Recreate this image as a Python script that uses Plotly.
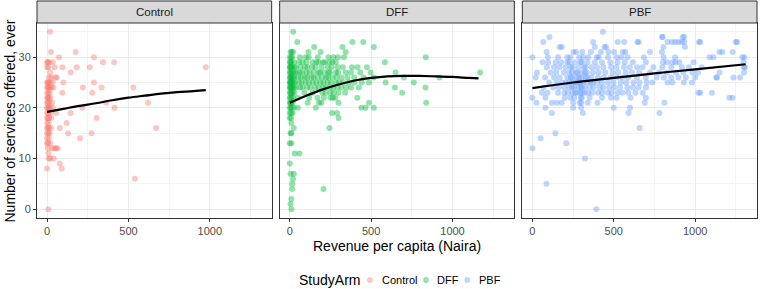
import plotly.graph_objects as go

# ---------------- data ----------------
panels = ["Control", "DFF", "PBF"]
colors = {"Control": "#F8766D", "DFF": "#00BA38", "PBF": "#619CFF"}

# points: services offered (y) -> list of revenue per capita values (x)
control_pts = {
    35: [18], 31: [24, 176], 30: [73, 288], 29: [0, 5, 12, 35, 343, 412],
    28: [0, 8, 47, 94, 182, 263, 975], 27: [20, 145], 26: [12, 25, 50, 60],
    25: [0, 5, 10, 20, 35, 100, 288], 24: [0, 5, 10, 18, 25, 40, 220, 335, 530],
    23: [0, 8, 15, 94, 278], 22: [0, 5, 10, 20], 21: [0, 5, 15, 30, 363, 620],
    20: [0, 5, 10, 18, 35, 216, 414], 19: [0, 8, 20, 55, 145], 18: [0, 5, 12, 25, 304],
    17: [0, 10, 120], 16: [0, 5, 12, 25, 78, 670], 15: [0, 8, 15, 129, 273],
    14: [0, 10, 202], 13: [0, 5, 20], 12: [5, 30, 45, 55, 65], 11: [8],
    10: [10, 20, 40], 9: [78], 8: [0, 90], 6: [540], 0: [8],
}
dff_pts = {
    35: [21], 33: [46, 385, 452], 32: [150, 324, 517],
    31: [5, 12, 20, 115, 190, 344],
    30: [0, 8, 15, 62, 98, 117, 172, 238, 268, 296, 333, 836],
    29: [0, 4, 11, 26, 57, 78, 103, 141, 163, 178, 205, 216, 244, 262, 283, 585],
    28: [0, 2, 7, 14, 27, 38, 66, 93, 108, 137, 158, 196, 233, 257, 294, 327, 383, 417, 474],
    27: [0, 4, 9, 19, 31, 43, 62, 77, 103, 122, 148, 177, 186, 213, 238, 247, 283, 297,
         344, 376, 433, 497, 650, 1170],
    26: [0, 3, 7, 13, 21, 29, 52, 68, 92, 107, 133, 147, 172, 198, 223, 236, 263, 288,
         318, 354, 396, 454, 516, 701, 920],
    25: [0, 2, 5, 9, 16, 23, 33, 57, 73, 97, 118, 142, 163, 188, 207, 232, 252, 283,
         302, 328, 364, 397, 443, 487, 589, 762],
    24: [0, 3, 6, 12, 17, 26, 38, 63, 78, 107, 127, 157, 178, 203, 222, 247, 268, 293,
         317, 348, 377, 424, 646, 834],
    23: [0, 5, 10, 18, 28, 90, 140, 200, 220, 250, 270, 300, 340, 691],
    22: [0, 5, 12, 20, 50, 120, 170, 210, 250, 265, 280, 415],
    21: [0, 5, 10, 18, 110, 180, 195, 300, 487, 838],
    20: [0, 5, 12, 25, 50, 160, 440, 466, 517], 19: [0, 8, 18, 260, 290],
    18: [0, 8, 300], 17: [10], 16: [25, 244], 15: [5, 10], 13: [0, 10], 11: [30, 60],
    9: [0], 7: [5, 25], 6: [20], 5: [15], 4: [15, 207], 2: [10], 1: [5], 0: [10],
}
pbf_pts = {
    35: [433], 34: [105, 796, 801, 923, 933],
    33: [67, 373, 524, 564, 645, 653, 830, 857, 877, 897, 917, 933, 1024, 1031, 1250, 1258],
    32: [167, 181, 383, 443, 453, 806, 937],
    31: [87, 252, 268, 306, 359, 421, 467, 502, 556, 571, 722, 796, 1149, 1167, 1230],
    30: [0, 95, 158, 214, 233, 287, 312, 343, 396, 408, 464, 518, 547, 585, 685, 806, 877,
         1089, 1112, 1290, 1302],
    29: [62, 97, 143, 176, 214, 228, 262, 296, 303, 338, 383, 427, 478, 523, 567, 617,
         697, 803, 828, 862, 879, 903, 990, 1298],
    28: [88, 133, 166, 204, 236, 247, 283, 317, 326, 363, 397, 436, 483, 516, 562, 598,
         643, 677, 743, 798, 853, 918, 962, 1040, 1300, 1305],
    27: [28, 112, 147, 193, 226, 243, 268, 277, 304, 323, 334, 372, 407, 448, 493, 527,
         573, 612, 657, 722, 778, 827, 883, 927, 983, 1018, 1150, 1300],
    26: [20, 78, 133, 167, 214, 236, 246, 273, 287, 302, 327, 338, 363, 402, 437, 483,
         518, 553, 588, 642, 697, 763, 807, 853, 897, 943, 1000, 1130, 1134, 1235, 1276],
    25: [102, 148, 183, 206, 227, 243, 263, 273, 288, 297, 313, 336, 357, 373, 398, 427,
         463, 498, 543, 577, 622, 658, 703, 738, 830, 860, 930, 980],
    24: [68, 128, 163, 197, 226, 243, 256, 283, 296, 304, 323, 352, 377, 412, 436, 472,
         503, 538, 583, 617, 652, 698],
    23: [58, 92, 157, 196, 218, 247, 262, 276, 293, 307, 322, 343, 368, 403, 428, 463,
         487, 523, 553, 588, 633, 678, 1020, 1032, 1103],
    22: [0, 80, 198, 233, 257, 297, 303, 352, 428, 483, 517, 603, 697, 1210, 1230],
    21: [25, 120, 150, 180, 250, 290, 300, 340, 400, 690, 811],
    20: [80, 250, 300, 500, 600], 19: [120, 310, 590, 781], 16: [659],
    15: [141], 14: [50], 13: [208], 12: [0], 10: [323], 5: [87], 0: [393],
}

# loess smooth curves
control_smooth_x = [0, 100, 200, 300, 400, 500, 600, 700, 800, 900, 975]
control_smooth_y = [19.2, 19.8, 20.4, 20.9, 21.5, 22.0, 22.4, 22.8, 23.1, 23.3, 23.5]
dff_smooth_x = [0, 50, 100, 150, 200, 300, 400, 500, 600, 700, 800, 900, 1000, 1100, 1160]
dff_smooth_y = [21.0, 21.7, 22.4, 23.0, 23.6, 24.6, 25.4, 25.9, 26.2, 26.3, 26.3, 26.2, 26.1, 25.9, 25.8]
pbf_smooth_x = [0, 250, 500, 750, 1000, 1310]
pbf_smooth_y = [23.9, 25.0, 25.9, 26.8, 27.6, 28.6]

x_ticks = [0, 500, 1000]
y_ticks = [0, 10, 20, 30]

# ---------------- figure ----------------
W, H = 762, 289
ML, MR, MT, MB = 37, 5, 23, 71
PW = W - ML - MR
PH = H - MT - MB
gap = 8 / PW
pw = (1 - 2 * gap) / 3
domains = [[i * (pw + gap), i * (pw + gap) + pw] for i in range(3)]
domains[2][1] = 1.0

FONT = "Liberation Sans, Arial, sans-serif"
fig = go.Figure()

pts_all = [control_pts, dff_pts, pbf_pts]
smooth_all = [(control_smooth_x, control_smooth_y), (dff_smooth_x, dff_smooth_y),
              (pbf_smooth_x, pbf_smooth_y)]

for i, name in enumerate(panels):
    xs, ys = [], []
    for yv, xl in pts_all[i].items():
        for xv in xl:
            xs.append(xv)
            ys.append(yv)
    ax = "" if i == 0 else str(i + 1)
    fig.add_trace(go.Scatter(
        x=xs, y=ys, mode="markers", xaxis="x" + ax, yaxis="y" + ax,
        marker=dict(color=colors[name], size=6, opacity=0.42, line=dict(width=0)),
        showlegend=False, hoverinfo="skip"))
for i, name in enumerate(panels):
    ax = "" if i == 0 else str(i + 1)
    sx, sy = smooth_all[i]
    fig.add_trace(go.Scatter(
        x=sx, y=sy, mode="lines", xaxis="x" + ax, yaxis="y" + ax,
        line=dict(color="black", width=2.2, shape="spline"),
        showlegend=False, hoverinfo="skip"))

layout = dict(
    width=W, height=H, margin=dict(l=ML, r=MR, t=MT, b=MB),
    paper_bgcolor="white", plot_bgcolor="white", showlegend=False,
    font=dict(family=FONT, color="#000000"),
)
for i in range(3):
    ax = "" if i == 0 else str(i + 1)
    layout["xaxis" + ax] = dict(
        domain=domains[i], range=[-62, 1380], anchor="y" + ax,
        tickvals=x_ticks, ticks="outside", ticklen=3, tickcolor="#333333", tickwidth=1,
        tickfont=dict(size=11, color="#4D4D4D", family=FONT),
        showgrid=True, gridcolor="#EBEBEB", gridwidth=1,
        minor=dict(tickvals=[250, 750, 1250], showgrid=True, gridcolor="#F3F3F3", gridwidth=0.6, ticks=""),
        showline=True, linecolor="#333333", linewidth=1, mirror=True, zeroline=False,
    )
    layout["yaxis" + ax] = dict(
        domain=[0, 1], range=[-1.75, 36.75], anchor="x" + ax,
        tickvals=y_ticks, ticks="outside" if i == 0 else "", ticklen=3,
        tickcolor="#333333", tickwidth=1, showticklabels=(i == 0),
        tickfont=dict(size=11, color="#4D4D4D", family=FONT),
        showgrid=True, gridcolor="#EBEBEB", gridwidth=1,
        minor=dict(tickvals=[5, 15, 25, 35], showgrid=True, gridcolor="#F3F3F3", gridwidth=0.6, ticks=""),
        showline=True, linecolor="#333333", linewidth=1, mirror=True, zeroline=False,
    )
fig.update_layout(**layout)

def px_x(p):
    return (p - ML) / PW

def px_y(p):
    return (H - MB - p) / PH

strip_top = px_y(1)
shapes = []
annotations = []
for i, name in enumerate(panels):
    shapes.append(dict(type="rect", xref="paper", yref="paper",
                       x0=domains[i][0], x1=domains[i][1], y0=1, y1=strip_top,
                       fillcolor="#D9D9D9", line=dict(color="#333333", width=1), layer="above"))
    annotations.append(dict(text=name, xref="paper", yref="paper",
                            x=(domains[i][0] + domains[i][1]) / 2, y=(1 + strip_top) / 2,
                            xanchor="center", yanchor="middle", showarrow=False,
                            font=dict(size=11.5, color="#1A1A1A", family=FONT)))

# axis titles
annotations.append(dict(text="Revenue per capita (Naira)", xref="paper", yref="paper",
                        x=0.5, y=px_y(245.5), xanchor="center", yanchor="middle",
                        showarrow=False, font=dict(size=14, color="black", family=FONT)))
annotations.append(dict(text="Number of services offered, ever", xref="paper", yref="paper",
                        x=px_x(9), y=px_y(121.5), xanchor="center", yanchor="middle",
                        textangle=-90, showarrow=False,
                        font=dict(size=14, color="black", family=FONT)))

# legend (drawn manually to match ggplot's compact key layout)
ly = 280
annotations.append(dict(text="StudyArm", xref="paper", yref="paper",
                        x=px_x(297), y=px_y(ly), xanchor="left", yanchor="middle",
                        showarrow=False, font=dict(size=14, color="black", family=FONT)))
key_x = [370, 426, 467.3]
lab_x = [379.5, 435, 476.5]
r = 2.9
for i, name in enumerate(panels):
    shapes.append(dict(type="circle", xref="paper", yref="paper",
                       x0=px_x(key_x[i] - r), x1=px_x(key_x[i] + r),
                       y0=px_y(ly + r), y1=px_y(ly - r),
                       fillcolor=colors[name], opacity=0.42, line=dict(width=0)))
    annotations.append(dict(text=name, xref="paper", yref="paper",
                            x=px_x(lab_x[i]), y=px_y(ly), xanchor="left", yanchor="middle",
                            showarrow=False, font=dict(size=11, color="black", family=FONT)))

fig.update_layout(shapes=shapes, annotations=annotations)
fig.write_html("out.html")
